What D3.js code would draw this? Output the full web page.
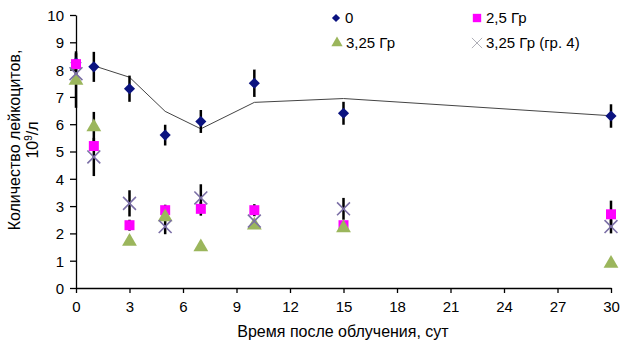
<!DOCTYPE html>
<html>
<head>
<meta charset="utf-8">
<script src="https://cdn.jsdelivr.net/npm/d3@7"></script>
<style>
  body { margin: 0; background: #fff; }
  text { font-family: "Liberation Sans", Arial, sans-serif; fill: #000; }
</style>
</head>
<body>
<div id="chart"></div>
<script>
// days after irradiation
const days = [0, 1, 3, 5, 7, 10, 15, 30];

// series values (10^9/l) and error half-widths
const ctrl = [8.25, 8.1, 7.3, 5.6, 6.1, 7.5, 6.4, 6.3];
const ctrlErr = [0.42, 0.55, 0.48, 0.38, 0.42, 0.5, 0.42, 0.43];
const gr25 = [8.2, 5.2, 2.3, 2.85, 2.9, 2.85, 2.3, 2.7];
const gr25Err = [0, 0, 0.2, 0.2, 0.25, 0.22, 0, 0.5];
const gr325 = [7.6, 5.9, 1.7, 2.6, 1.5, 2.3, 2.2, 0.9];
const gr325Err = [1.0, 0.55, 0, 0, 0, 0, 0, 0];
const gr4 = [7.85, 4.8, 3.1, 2.25, 3.3, 2.45, 2.9, 2.25];
const gr4Err = [0, 0.7, 0.48, 0.28, 0.5, 0, 0.4, 0.25];

// trend line
const lineDays = [1, 3, 5, 7, 10, 15, 30];
const lineVals = [8.14, 7.72, 6.47, 5.83, 6.8, 6.94, 6.31];

const xTicks = [0, 3, 6, 9, 12, 15, 18, 21, 24, 27, 30];
const yTicks = [0, 1, 2, 3, 4, 5, 6, 7, 8, 9, 10];

const width = 630, height = 355;
const margin = { top: 15, right: 19, bottom: 67, left: 76 };

const svg = d3.select("#chart")
    .append("svg")
    .attr("width", width)
    .attr("height", height);

const x = d3.scaleLinear().domain([0, 30]).range([margin.left, width - margin.right]);
const y = d3.scaleLinear().domain([0, 10]).range([height - margin.bottom, margin.top]);

// axes
const xAxis = svg.append("g")
    .attr("transform", `translate(0, ${y(0)})`)
    .call(d3.axisBottom(x).tickValues(xTicks).tickSize(5).tickSizeOuter(0).tickPadding(5));
const yAxis = svg.append("g")
    .attr("transform", `translate(${x(0)}, 0)`)
    .call(d3.axisLeft(y).tickValues(yTicks).tickSize(6).tickSizeOuter(0).tickPadding(6));
[xAxis, yAxis].forEach(a => {
    a.selectAll("path, line").attr("stroke", "#000").attr("stroke-width", 1.3);
    a.selectAll("text").style("font-size", "15px").attr("fill", "#000");
});
xAxis.selectAll("text").attr("dy", "0.95em");
yAxis.selectAll("text").attr("dy", "0.36em");

// axis titles
svg.append("text")
    .attr("x", 343)
    .attr("y", 337)
    .attr("text-anchor", "middle")
    .style("font-size", "16px")
    .text("Время после облучения, сут");

const yt = svg.append("g").attr("transform", "translate(20, 140) rotate(-90)");
yt.append("text")
    .attr("text-anchor", "middle")
    .style("font-size", "16px")
    .text("Количество лейкоцитов,");
const yt2 = yt.append("text")
    .attr("y", 18)
    .attr("text-anchor", "middle")
    .style("font-size", "16px");
yt2.append("tspan").text("10");
yt2.append("tspan").attr("dy", -6).style("font-size", "10px").text("9");
yt2.append("tspan").attr("dy", 6).text("/л");

// trend line
svg.append("path")
    .datum(lineDays.map((d, i) => [d, lineVals[i]]))
    .attr("fill", "none")
    .attr("stroke", "#444")
    .attr("stroke-width", 1)
    .attr("d", d3.line().x(d => x(d[0])).y(d => y(d[1])));

// error bars
const errSets = [[ctrl, ctrlErr], [gr25, gr25Err], [gr325, gr325Err], [gr4, gr4Err]];
errSets.forEach(([vals, errs]) => {
    svg.append("g").selectAll("line")
        .data(days.map((d, i) => ({ d: d, v: vals[i], e: errs[i] })).filter(p => p.e > 0))
        .enter()
        .append("line")
        .attr("x1", p => x(p.d))
        .attr("x2", p => x(p.d))
        .attr("y1", p => y(p.v + p.e))
        .attr("y2", p => y(p.v - p.e))
        .attr("stroke", "#000")
        .attr("stroke-width", 2.5);
});

// diamond = square turned by 45 degrees
const symDiamond = d3.symbol().type(d3.symbolSquare).size(62);
const symSquare = d3.symbol().type(d3.symbolSquare).size(100);
const symTriangle = d3.symbol().type(d3.symbolTriangle).size(95);
const symX = d3.symbol().type(d3.symbolTimes).size(110);

const series = [
    { vals: ctrl, sym: symDiamond, fill: "#0b1380", stroke: "none", rot: 45 },
    { vals: gr25, sym: symSquare, fill: "#ff00ff", stroke: "none", rot: 0 },
    { vals: gr325, sym: symTriangle, fill: "#9bb65c", stroke: "none", rot: 0 },
    { vals: gr4, sym: symX, fill: "none", stroke: "#7b6fa6", rot: 0 }
];

series.forEach(s => {
    svg.append("g").selectAll("path")
        .data(days.map((d, i) => [d, s.vals[i]]))
        .enter()
        .append("path")
        .attr("transform", d => `translate(${x(d[0])}, ${y(d[1])}) rotate(${s.rot})`)
        .attr("d", s.sym())
        .attr("fill", s.fill)
        .attr("stroke", s.stroke)
        .attr("stroke-width", 1.6);
});

// legend
const legend = [
    { label: "0", sym: d3.symbol().type(d3.symbolSquare).size(34), rot: 45, fill: "#0b1380", stroke: "none", x: 336, y: 18 },
    { label: "2,5 Гр", sym: d3.symbol().type(d3.symbolSquare).size(70), rot: 0, fill: "#ff00ff", stroke: "none", x: 477, y: 18 },
    { label: "3,25 Гр", sym: d3.symbol().type(d3.symbolTriangle).size(55), rot: 0, fill: "#9bb65c", stroke: "none", x: 337, y: 43 },
    { label: "3,25 Гр (гр. 4)", sym: d3.symbol().type(d3.symbolTimes).size(70), rot: 0, fill: "none", stroke: "#b0b0b8", x: 477, y: 43 }
];
const lg = svg.append("g").selectAll("g")
    .data(legend)
    .enter()
    .append("g")
    .attr("transform", d => `translate(${d.x}, ${d.y})`);
lg.append("path")
    .attr("d", d => d.sym())
    .attr("transform", d => `rotate(${d.rot})`)
    .attr("fill", d => d.fill)
    .attr("stroke", d => d.stroke)
    .attr("stroke-width", 1);
lg.append("text")
    .attr("x", 9)
    .attr("dy", "0.36em")
    .style("font-size", "15px")
    .text(d => d.label);
</script>
</body>
</html>
